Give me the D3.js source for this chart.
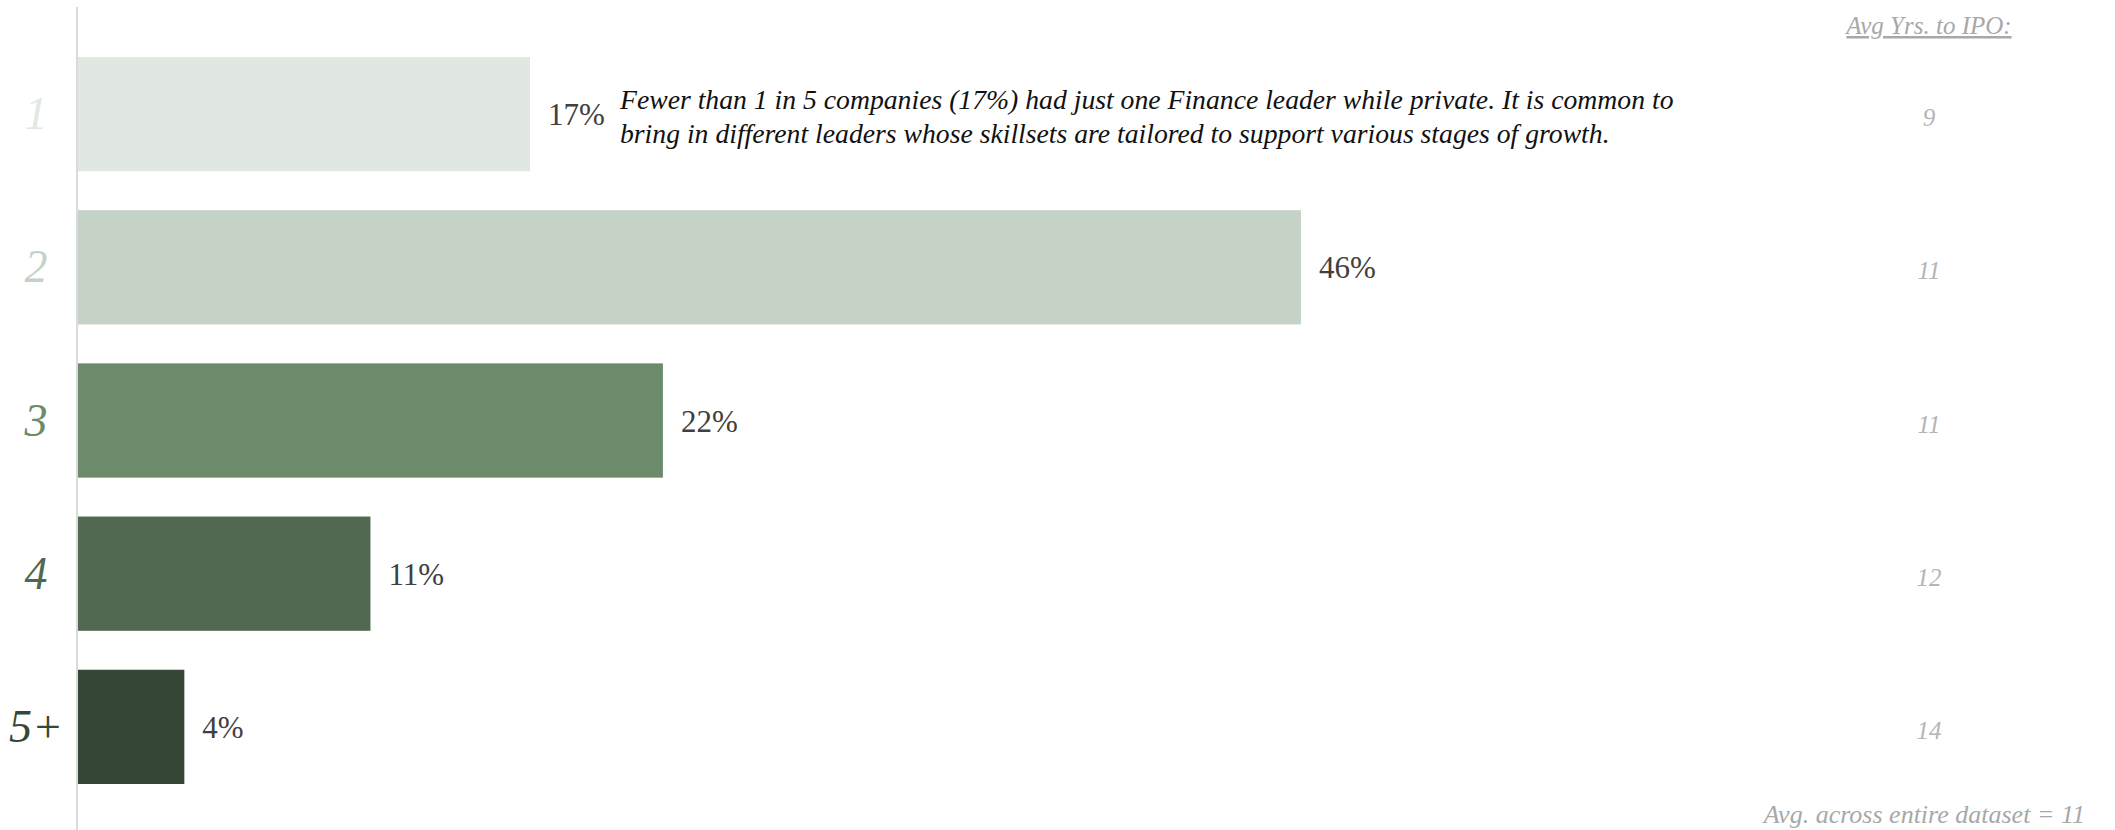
<!DOCTYPE html>
<html>
<head>
<meta charset="utf-8">
<script src="https://cdn.jsdelivr.net/npm/d3@7"></script>
<style>
  html, body { margin: 0; padding: 0; background: #ffffff; }
  svg { display: block; }
</style>
</head>
<body>
<div id="chart"></div>
<script>
// Number of Finance leaders a company had while private
const categories = ["1", "2", "3", "4", "5+"];
// Share of companies in each group (%)
const shares = [17, 46, 22, 11, 4];
// Average years to IPO for each group
const avgYears = [9, 11, 11, 12, 14];
const barColors = ["#e1e8e1", "#c4d3c5", "#6b8b6a", "#516950", "#364735"];

const headerText = "Avg Yrs. to IPO:";
const footerText = "Avg. across entire dataset = 11";
const noteLines = [
  "Fewer than 1 in 5 companies (17%) had just one Finance leader while private. It is common to",
  "bring in different leaders whose skillsets are tailored to support various stages of growth."
];

const W = 2115, H = 830;
const svg = d3.select("#chart").append("svg")
  .attr("width", W).attr("height", H);

const serif = "'Liberation Serif', 'DejaVu Serif', serif";

const x = d3.scaleLinear().domain([0, 46]).range([78, 1301]);
const y = d3.scaleBand().domain(categories).range([57, 784])
  .paddingInner(0.254).paddingOuter(0);
const color = d3.scaleOrdinal().domain(categories).range(barColors);

const rows = categories.map((c, i) => ({ cat: c, share: shares[i], years: avgYears[i] }));

// vertical baseline axis
svg.append("line")
  .attr("x1", 77).attr("x2", 77)
  .attr("y1", 7).attr("y2", H)
  .attr("stroke", "#dadada").attr("stroke-width", 2);

// bars
svg.append("g").selectAll("rect").data(rows).join("rect")
  .attr("x", x(0))
  .attr("y", d => y(d.cat))
  .attr("width", d => x(d.share) - x(0))
  .attr("height", y.bandwidth())
  .attr("fill", d => color(d.cat));

const mid = d => y(d.cat) + y.bandwidth() / 2;

// category labels, tinted like their bars
svg.append("g").selectAll("text").data(rows).join("text")
  .attr("x", 36)
  .attr("y", d => mid(d) + 15)
  .attr("text-anchor", "middle")
  .attr("font-family", serif)
  .attr("font-style", "italic")
  .attr("font-size", 46)
  .attr("fill", d => color(d.cat))
  .text(d => d.cat);

// value labels
svg.append("g").selectAll("text").data(rows).join("text")
  .attr("x", d => x(d.share) + 18)
  .attr("y", d => mid(d) + 11)
  .attr("font-family", serif)
  .attr("font-size", 31)
  .attr("fill", "#404040")
  .text(d => d.share + "%");

// average years column
svg.append("g").selectAll("text").data(rows).join("text")
  .attr("x", 1929)
  .attr("y", d => mid(d) + 12)
  .attr("text-anchor", "middle")
  .attr("font-family", serif)
  .attr("font-style", "italic")
  .attr("font-size", 25)
  .attr("fill", "#b4b4b4")
  .text(d => d.years);

svg.append("text")
  .attr("x", 1929).attr("y", 34)
  .attr("text-anchor", "middle")
  .attr("font-family", serif)
  .attr("font-style", "italic")
  .attr("font-size", 25)
  .attr("fill", "#a8a8a8")
  .attr("text-decoration", "underline")
  .text(headerText);

svg.append("text")
  .attr("x", 2085).attr("y", 823)
  .attr("text-anchor", "end")
  .attr("font-family", serif)
  .attr("font-style", "italic")
  .attr("font-size", 26)
  .attr("fill", "#a8a8a8")
  .text(footerText);

// explanatory note next to the first bar
svg.append("g").selectAll("text").data(noteLines).join("text")
  .attr("x", 620)
  .attr("y", (d, i) => 109 + i * 34)
  .attr("font-family", serif)
  .attr("font-style", "italic")
  .attr("font-size", 27.7)
  .attr("fill", "#111111")
  .text(d => d);
</script>
</body>
</html>
